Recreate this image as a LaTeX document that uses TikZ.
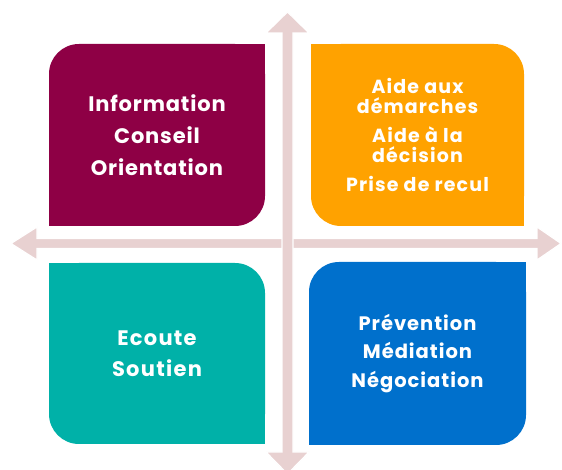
\documentclass[tikz,border=0pt]{standalone}
\usepackage{fontspec}
\setmainfont{Poppins}
\definecolor{maroon}{RGB}{142,0,69}
\definecolor{orangeq}{RGB}{255,162,0}
\definecolor{tealq}{RGB}{0,177,168}
\definecolor{blueq}{RGB}{0,112,204}
\definecolor{arrowpink}{RGB}{232,209,209}
\begin{document}
\begin{tikzpicture}[x=1pt,y=1pt,
  quad/.style={rectangle, rounded corners=30pt, minimum width=216pt, minimum height=182pt,
    inner sep=0pt},
  qtext/.style={text=white, align=center, inner sep=0pt},
  axisarrow/.style={fill=arrowpink, draw=white, line width=1.2pt, line join=miter}]
\useasboundingbox (0,0) rectangle (562,470);
% axes
\path[axisarrow] (37,231.5) -- (537,231.5) -- (537,243) -- (561,226.5) -- (537,210) -- (537,221.5) -- (37,221.5) -- (37,210) -- (11,226.5) -- (37,243) -- cycle;
\path[axisarrow] (282,437) -- (282,18) -- (266,18) -- (287.5,-4) -- (309,18) -- (293,18) -- (293,437) -- (309,437) -- (287.5,458) -- (266,437) -- cycle;
% quadrants
\node[quad, fill=maroon] (q1) at (157,335) {};
\fill[maroon] (q1.north east) rectangle ++(-32,-32);
\fill[maroon] (q1.south west) rectangle ++(32,32);
\node[qtext, font=\bfseries\fontsize{21}{32}\selectfont\addfontfeature{LetterSpace=4}] (t1) at (q1.center) {Information\\Conseil\\Orientation};

\node[quad, fill=orangeq, minimum width=213pt] (q2) at (417.5,335) {};
\fill[orangeq] (q2.north west) rectangle ++(32,-32);
\fill[orangeq] (q2.south east) rectangle ++(-32,32);
\node[qtext, font=\bfseries\fontsize{19}{20}\selectfont\addfontfeature{LetterSpace=6}] (t2) at (q2.center) {Aide aux\\démarches\\[9pt]Aide à la\\décision\\[9pt]Prise de recul};

\node[quad, fill=tealq, minimum height=181pt] (q3) at (157,116.5) {};
\fill[tealq] (q3.north west) rectangle ++(32,-32);
\fill[tealq] (q3.south east) rectangle ++(-32,32);
\node[qtext, font=\bfseries\fontsize{21}{31}\selectfont\addfontfeature{LetterSpace=6}] (t3) at (q3.center) {Ecoute\\Soutien};

\node[quad, fill=blueq, minimum width=217pt, minimum height=183pt] (q4) at (417.5,116.5) {};
\fill[blueq] (q4.north east) rectangle ++(-32,-32);
\fill[blueq] (q4.south west) rectangle ++(32,32);
\node[qtext, font=\bfseries\fontsize{19.5}{28.5}\selectfont\addfontfeature{LetterSpace=5}] (t4) at (q4.center) {Prévention\\Médiation\\Négociation};
\end{tikzpicture}
\end{document}
